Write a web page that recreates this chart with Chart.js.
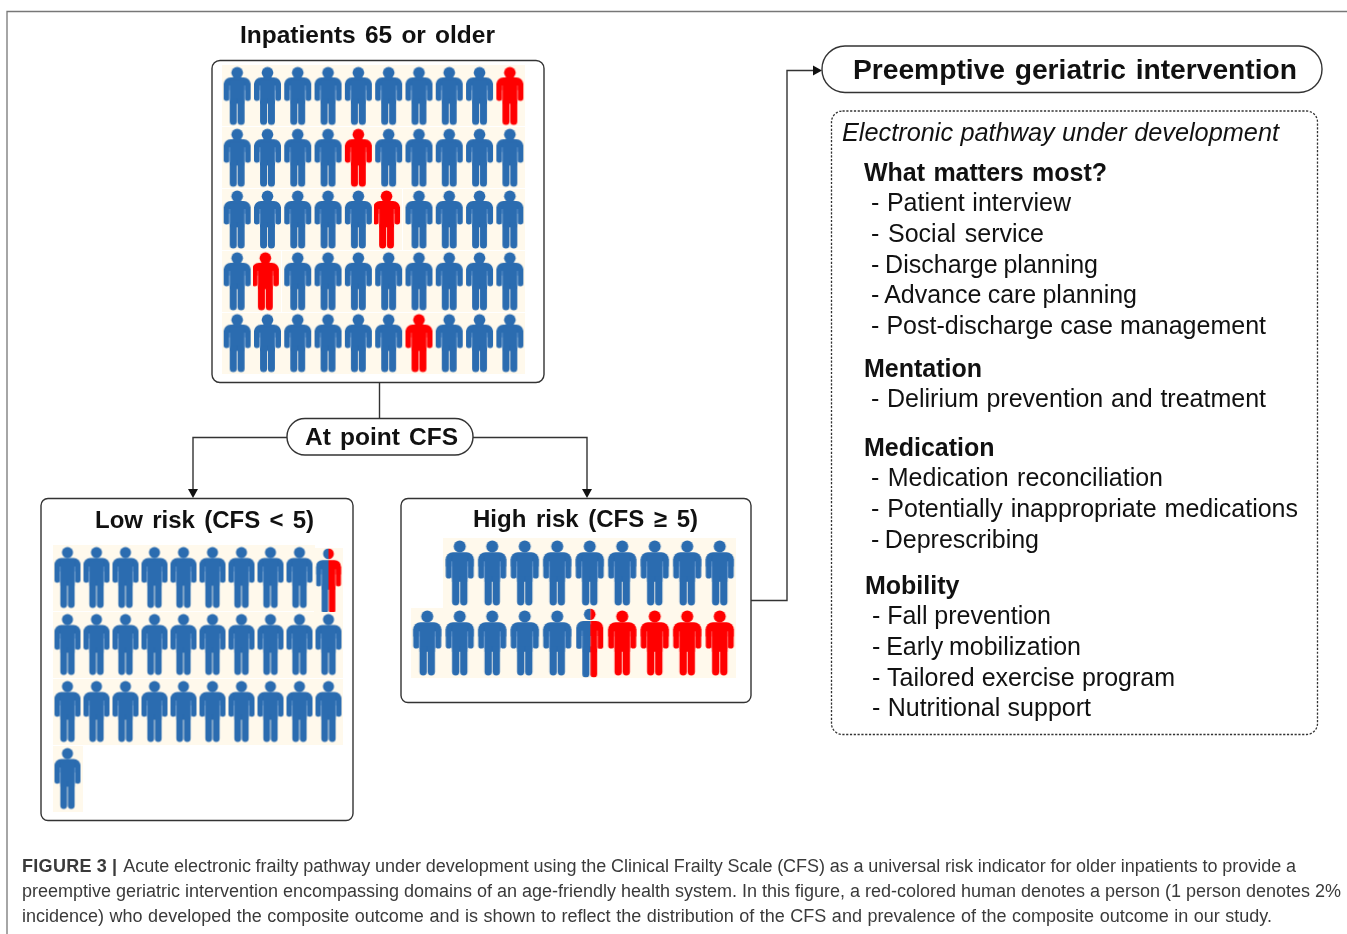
<!DOCTYPE html>
<html><head><meta charset="utf-8">
<style>
html,body{margin:0;padding:0;background:#fff;width:1347px;height:934px;overflow:hidden}
#stage{position:relative;width:1347px;height:934px}
svg{position:absolute;left:0;top:0}
canvas{position:absolute;filter:blur(0.35px)}
text{font-family:"Liberation Sans",Arial,sans-serif;fill:#111}
</style>
<script src="https://cdn.jsdelivr.net/npm/chart.js@4"></script>
</head><body>
<div id="stage">
<svg id="frame" width="1347" height="934"></svg>
<canvas id="chartInpatients" style="left:222px;top:65px"></canvas>
<canvas id="chartLow" style="left:53px;top:544px"></canvas>
<canvas id="chartHigh" style="left:411px;top:538px"></canvas>
<svg id="labels" width="1347" height="934"></svg>
</div>
<script>
// ---- data: column / row of every person in each pictogram ----
const inpatientColumns = 10;
const inpatientRows = 5;
const inpatientRed = [[9,0],[4,1],[4.93,2],[0.93,3],[6,4]];

const lowBlueRowLengths = [9,10,10,1];
const lowHalf = [[9,0.05]];

const highTopColumns = [1,2,3,4,5,6,7,8,9];
const highBottomBlueColumns = [0,1,2,3,4];
const highHalf = [[5,0]];
const highRedColumns = [6,7,8,9];

const titleInpatients = "Inpatients 65 or older";
const titleLow = "Low risk (CFS < 5)";
const titleHigh = "High risk (CFS \u2265 5)";

const BLUE = "#2b6cb0", GAP_BLUE = "#6a9bd0", RED = "#ff0000", GAP_RED = "#ff6060", CREAM = "#fff9ec";

function person(c, w, h, color, gap){
  c.fillStyle = color;
  const r = w*0.215;
  c.beginPath(); c.arc(w/2, r, r, 0, Math.PI*2); c.fill();
  const top = h*0.18, arm = h*0.585;
  c.beginPath(); c.roundRect(0, top, w, h*0.22, [w*0.26,w*0.26,0,0]); c.fill();
  c.beginPath(); c.roundRect(0, top+h*0.1, w*0.21, arm-top-h*0.1, [0,0,w*0.1,w*0.1]); c.fill();
  c.beginPath(); c.roundRect(w*0.79, top+h*0.1, w*0.21, arm-top-h*0.1, [0,0,w*0.1,w*0.1]); c.fill();
  c.fillRect(w*0.225, top+h*0.05, w*0.55, arm-top);
  c.beginPath(); c.roundRect(w*0.225, h*0.55, w*0.26, h*0.45, [0,0,w*0.13,w*0.13]); c.fill();
  c.beginPath(); c.roundRect(w*0.515, h*0.55, w*0.26, h*0.45, [0,0,w*0.13,w*0.13]); c.fill();
  c.fillStyle = gap;
  c.fillRect(w*0.205, top+h*0.14, w*0.03, arm-top-h*0.14);
  c.fillRect(w*0.765, top+h*0.14, w*0.03, arm-top-h*0.14);
}
function sprite(cw, ch, pw, ph, split){
  const s = document.createElement("canvas"); s.width = cw; s.height = ch;
  const c = s.getContext("2d");
  c.fillStyle = CREAM; c.fillRect(0,0,cw,ch);
  c.translate((cw-pw)/2,(ch-ph)/2);
  if(split===0){ person(c,pw,ph,RED,GAP_RED); return s; }
  if(split===1){ person(c,pw,ph,BLUE,GAP_BLUE); return s; }
  c.save(); c.beginPath(); c.rect(0,0,pw*split,ph); c.clip(); person(c,pw,ph,BLUE,GAP_BLUE); c.restore();
  c.save(); c.beginPath(); c.rect(pw*split,0,pw,ph); c.clip(); person(c,pw,ph,RED,GAP_RED); c.restore();
  return s;
}
const pts = a => a.map(p => ({x:p[0], y:p[1]}));
function pictogram(id, w, h, cols, rows, sets){
  const el = document.getElementById(id);
  el.width = w; el.height = h; el.style.width = w+"px"; el.style.height = h+"px";
  return new Chart(el, {
    type: "scatter",
    data: { datasets: sets.map(s => ({ label:s.label, data:pts(s.data), pointStyle:s.style, pointRadius:10, clip:false })) },
    options: {
      responsive:false, animation:false, devicePixelRatio:1,
      layout:{padding:0, autoPadding:false},
      plugins:{legend:{display:false}, tooltip:{enabled:false}},
      scales:{
        x:{type:"linear", min:-0.5, max:cols-0.5, display:false},
        y:{type:"linear", min:-0.5, max:rows-0.5, reverse:true, display:false}
      }
    }
  });
}
// inpatients
const inpatientBlue = [];
for(let r=0;r<inpatientRows;r++) for(let c=0;c<inpatientColumns;c++)
  if(!inpatientRed.some(p=>Math.round(p[0])===c && p[1]===r)) inpatientBlue.push([c,r]);
pictogram("chartInpatients",303,309,inpatientColumns,inpatientRows,[
  {label:"No outcome",data:inpatientBlue,style:sprite(31,61,27,58,1)},
  {label:"Composite outcome",data:inpatientRed,style:sprite(31,61,27,58,0)}
]);
// low risk
const lowBlue = [];
lowBlueRowLengths.forEach((n,r)=>{ for(let c=0;c<n;c++) lowBlue.push([c,r]); });
pictogram("chartLow",290,268,10,4,[
  {label:"No outcome",data:lowBlue,style:sprite(30,66,26,61,1)},
  {label:"Half",data:lowHalf,style:sprite(30,66,25,65,0.5)}
]);
// high risk
const highBlue = highTopColumns.map(c=>[c,0]).concat(highBottomBlueColumns.map(c=>[c,1]));
pictogram("chartHigh",325,140,10,2,[
  {label:"No outcome",data:highBlue,style:sprite(33,70,28,65,1)},
  {label:"Half",data:highHalf.map(p=>[p[0],1]),style:sprite(33,70,27,69,0.53)},
  {label:"Composite outcome",data:highRedColumns.map(c=>[c,1]),style:sprite(33,70,28,65,0)}
]);

// ---- diagram frame ----
const NS="http://www.w3.org/2000/svg";
const frame=document.getElementById("frame");
function sh(tag,attrs,root){const e=document.createElementNS(NS,tag);for(const k in attrs)e.setAttribute(k,attrs[k]);(root||frame).appendChild(e);return e;}
const INK="#333";
sh("path",{d:"M7 934V11.5H1347",fill:"none",stroke:"#777","stroke-width":1.3});
function box(x,y,w,h,r,extra){return sh("rect",Object.assign({x,y,width:w,height:h,rx:r,ry:r,fill:"#fff",stroke:INK,"stroke-width":1.4},extra||{}));}
sh("path",{d:"M379.5 382V418",fill:"none",stroke:INK,"stroke-width":1.4});
sh("path",{d:"M287 437.5H193V491 M473 437.5H587V491 M751 600.5H787V70.5H815",fill:"none",stroke:INK,"stroke-width":1.4});
sh("path",{d:"M188 489H198L193 498Z",fill:"#111"});
sh("path",{d:"M582 489H592L587 498Z",fill:"#111"});
sh("path",{d:"M813 65.5V75.5L822 70.5Z",fill:"#111"});
box(212,60.5,332,322,8);
box(287,418.5,186,36.5,18);
box(41,498.5,312,322,7);
box(401,498.5,350,204,7);
box(822,46,500,46.5,23);
box(831.5,111,486,623.5,11,{"stroke-dasharray":"2.2 1.6","stroke-width":1.3});

// ---- text ----
const labels=document.getElementById("labels");
function txt(str,x0,x1,base,size,opt){
  opt=opt||{};
  const t=sh("text",{x:x0,y:base,"font-size":size,"font-weight":opt.bold?"bold":"normal","font-style":opt.italic?"italic":"normal"},labels);
  if(opt.color) t.style.fill=opt.color;
  if(opt.lead){
    const a=sh("tspan",{"font-weight":"bold","letter-spacing":"0.3"},t); a.textContent=opt.lead;
    const b=sh("tspan",{dx:"2"},t); b.textContent=str;
  } else t.textContent=str;
  const full=(opt.lead||"")+str;
  const n=(full.match(/ /g)||[]).length;
  const w=t.getComputedTextLength();
  if(n>0) t.style.wordSpacing=((x1-x0-w)/n)+"px";
  return t;
}
txt(titleInpatients,240,495,43,24.5,{bold:true});
txt("At point CFS",305,458,445,24.5,{bold:true});
txt(titleLow,95,314,528,24,{bold:true});
txt(titleHigh,473,698,527,24,{bold:true});
txt("Preemptive geriatric intervention",853,1297,79,28.2,{bold:true});
txt("Electronic pathway under development",842,1279,141,25.3,{italic:true});
[
 ["What matters most?",864,1107,181,1],
 ["- Patient interview",871,1071,211],
 ["- Social service",871,1044,242],
 ["- Discharge planning",871,1098,273],
 ["- Advance care planning",871,1137,303],
 ["- Post-discharge case management",871,1266,334],
 ["Mentation",864,981,377,1],
 ["- Delirium prevention and treatment",871,1266,407],
 ["Medication",864,993,456,1],
 ["- Medication reconciliation",871,1163,486],
 ["- Potentially inappropriate medications",871,1298,517],
 ["- Deprescribing",871,1039,548],
 ["Mobility",865,955,594,1],
 ["- Fall prevention",872,1051,624],
 ["- Early mobilization",872,1081,655],
 ["- Tailored exercise program",872,1175,686],
 ["- Nutritional support",872,1091,716]
].forEach(l=>txt(l[0],l[1],l[2],l[3],25,{bold:!!l[4]}));
const capColor="#3a3a3a";
txt(" Acute electronic frailty pathway under development using the Clinical Frailty Scale (CFS) as a universal risk indicator for older inpatients to provide a",22,1294,872,18,{color:capColor,lead:"FIGURE 3 |"});
txt("preemptive geriatric intervention encompassing domains of an age-friendly health system. In this figure, a red-colored human denotes a person (1 person denotes 2%",22,1341,897,18,{color:capColor});
txt("incidence) who developed the composite outcome and is shown to reflect the distribution of the CFS and prevalence of the composite outcome in our study.",22,1272,922,18,{color:capColor});
</script>
</body></html>
